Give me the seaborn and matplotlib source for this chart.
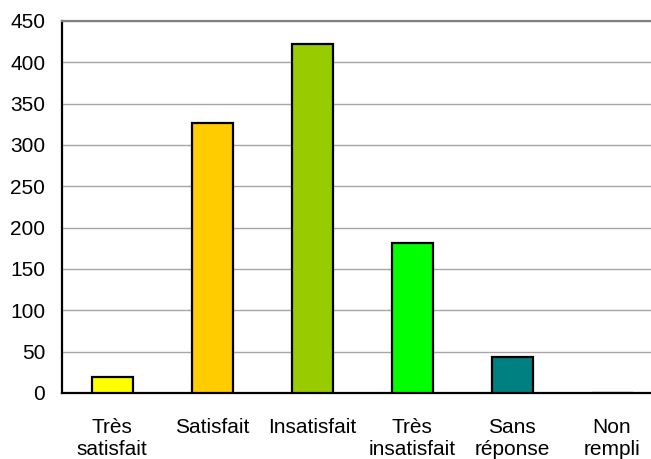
"""
Répartition des réponses de satisfaction
"""
import numpy as np
import pandas as pd
import matplotlib
matplotlib.use('Agg')
import matplotlib.pyplot as plt
import seaborn as sns

categories = ['Très\nsatisfait', 'Satisfait', 'Insatisfait', 'Très\ninsatisfait',
              'Sans\nréponse', 'Non\nrempli']
values = [19, 327, 422, 181, 44, 0]
colors = ['#FFFF00', '#FFCC00', '#99CC00', '#00FF00', '#008080', '#CCCCCC']

sns.set_style('white')
plt.rcParams['font.family'] = ['Liberation Sans', 'DejaVu Sans']

df = pd.DataFrame({'cat': categories, 'val': values})

fig = plt.figure(figsize=(6.51, 4.59), dpi=100)
# la zone de tracé dépasse à droite comme dans l'original
ax = fig.add_axes([62 / 651, 66 / 459, 600 / 651, 372 / 459])

sns.barplot(data=df, x='cat', y='val', hue='cat', palette=colors, legend=False,
            saturation=1, width=0.41, edgecolor='black', linewidth=1.6, ax=ax, zorder=3)

ax.set_xlim(-0.5, len(categories) - 0.5)
ax.set_ylim(0, 450)
ax.set_yticks(np.arange(0, 451, 50))
ax.yaxis.grid(True, color='#a6a6a6', linewidth=1, zorder=0)
ax.set_axisbelow(True)

# graduations x aux limites des catégories
ax.set_xticks(np.arange(-0.5, len(categories), 1.0), minor=True)
ax.tick_params(axis='x', which='major', length=0, pad=18, labelsize=15, labelcolor='black')
ax.tick_params(axis='x', which='minor', length=7, width=1.5, direction='out', color='black')
ax.tick_params(axis='y', length=5, width=1.5, direction='out', color='black',
               labelsize=15, labelcolor='black', pad=7)
ax.set_xticklabels(categories, linespacing=1.2)

for s in ['left', 'bottom']:
    ax.spines[s].set_color('black')
    ax.spines[s].set_linewidth(1.6)
ax.spines['top'].set_color('#808080')
ax.spines['top'].set_linewidth(1.6)
ax.spines['right'].set_visible(False)

ax.set_xlabel('')
ax.set_ylabel('')

plt.savefig('out.png', dpi=100)
